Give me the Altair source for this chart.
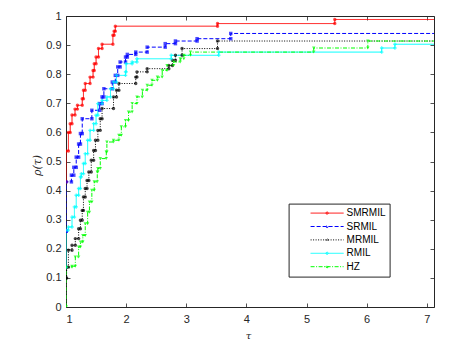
import altair as alt
import pandas as pd

series_names = ["SMRMIL", "SRMIL", "MRMIL", "RMIL", "HZ"]
colors = ["#ff0000", "#0000ff", "#000000", "#00ffff", "#00ff00"]
dashes = [[1, 0], [4, 2], [1, 1.5], [1, 0], [4, 1.5, 1, 1.5]]
shapes = ["circle", "square", "circle", "cross", "triangle-down"]

tau_max = 7.12

smrmil_tau = [1.00, 1.00, 1.04, 1.07, 1.10, 1.15, 1.19, 1.27, 1.29, 1.32, 1.40, 1.45, 1.47, 1.50, 1.54, 1.60, 1.78, 1.80, 1.82, 3.52, 5.47]
smrmil_rho = [0.43, 0.536, 0.60, 0.63, 0.66, 0.68, 0.693, 0.716, 0.745, 0.768, 0.79, 0.813, 0.836, 0.859, 0.888, 0.903, 0.934, 0.948, 0.965, 0.974, 0.988]

srmil_tau = [1.00, 1.00, 1.09, 1.13, 1.17, 1.21, 1.24, 1.27, 1.43, 1.56, 1.60, 1.63, 1.77, 1.82, 1.86, 1.90, 1.99, 2.02, 2.16, 2.35, 2.65, 2.82, 3.18, 3.74]
srmil_rho = [0.26, 0.43, 0.453, 0.48, 0.515, 0.56, 0.596, 0.647, 0.676, 0.699, 0.722, 0.75, 0.773, 0.796, 0.825, 0.842, 0.859, 0.868, 0.876, 0.893, 0.905, 0.914, 0.922, 0.94]

mrmil_tau = [1.00, 1.01, 1.04, 1.10, 1.155, 1.21, 1.24, 1.27, 1.29, 1.32, 1.35, 1.38, 1.42, 1.46, 1.49, 1.53, 1.57, 1.60, 1.79, 1.84, 1.88, 2.16, 2.18, 2.35, 2.71, 2.77, 2.82, 2.93, 3.52]
mrmil_rho = [0.10, 0.137, 0.195, 0.212, 0.235, 0.269, 0.298, 0.332, 0.378, 0.407, 0.435, 0.464, 0.504, 0.538, 0.573, 0.607, 0.647, 0.682, 0.722, 0.745, 0.768, 0.79, 0.808, 0.819, 0.83, 0.848, 0.865, 0.888, 0.914]

rmil_tau = [1.00, 1.00, 1.04, 1.10, 1.14, 1.17, 1.21, 1.24, 1.255, 1.29, 1.32, 1.36, 1.40, 1.46, 1.50, 1.53, 1.60, 1.68, 1.74, 1.79, 1.84, 1.99, 2.00, 2.10, 2.18, 2.75, 3.54, 6.25, 6.47]
rmil_rho = [0.137, 0.264, 0.275, 0.309, 0.344, 0.384, 0.407, 0.447, 0.458, 0.493, 0.527, 0.573, 0.607, 0.63, 0.659, 0.699, 0.71, 0.722, 0.75, 0.773, 0.796, 0.808, 0.836, 0.842, 0.853, 0.865, 0.876, 0.89, 0.903]

hz_tau = [1.00, 1.00, 1.10, 1.155, 1.21, 1.24, 1.28, 1.32, 1.36, 1.39, 1.43, 1.47, 1.52, 1.53, 1.57, 1.67, 1.68, 1.79, 1.88, 1.92, 1.99, 2.04, 2.10, 2.18, 2.27, 2.35, 2.43, 2.52, 2.60, 2.68, 2.79, 2.90, 2.96, 3.07, 5.12, 6.02]
hz_rho = [0.0, 0.137, 0.14, 0.172, 0.206, 0.223, 0.246, 0.286, 0.326, 0.361, 0.401, 0.43, 0.464, 0.476, 0.51, 0.533, 0.567, 0.573, 0.59, 0.619, 0.641, 0.67, 0.699, 0.722, 0.745, 0.762, 0.779, 0.79, 0.813, 0.83, 0.842, 0.853, 0.865, 0.876, 0.89, 0.914]

all_tau = [smrmil_tau, srmil_tau, mrmil_tau, rmil_tau, hz_tau]
all_rho = [smrmil_rho, srmil_rho, mrmil_rho, rmil_rho, hz_rho]

line_rows, point_rows = [], []
for k, name in enumerate(series_names):
    ts, rs = all_tau[k], all_rho[k]
    order = 0
    for i, (t, r) in enumerate(zip(ts, rs)):
        line_rows.append({"series": name, "tau": t, "rho": r, "o": order}); order += 1
        if i > 0:
            point_rows.append({"series": name, "tau": t, "rho": rs[i - 1]})
        point_rows.append({"series": name, "tau": t, "rho": r})
    line_rows.append({"series": name, "tau": tau_max, "rho": rs[-1], "o": order})

lines_df = pd.DataFrame(line_rows)
points_df = pd.DataFrame(point_rows)

ink = "#262626"
x_scale = alt.Scale(domain=[1, tau_max], nice=False, zero=False)
y_scale = alt.Scale(domain=[0, 1], nice=False)
x_ticks = [1, 2, 3, 4, 5, 6, 7]
y_ticks = [0, 0.1, 0.2, 0.3, 0.4, 0.5, 0.6, 0.7, 0.8, 0.9, 1.0]
nb = "\u00a0" * 7

legend = alt.Legend(orient="none", legendX=222.6, legendY=187.6, title=None,
                    symbolType="M-3.3,0H3.3M0.22,0A0.22,0.22,0,1,1,-0.22,0A0.22,0.22,0,1,1,0.22,0",
                    symbolSize=100, symbolStrokeWidth=1,
                    labelFontSize=10, labelFont="Liberation Sans", labelColor="#000000",
                    padding=4, strokeColor=ink, fillColor="white", rowPadding=2.4,
                    symbolOffset=29, labelOffset=14,
                    labelExpr="datum.label + '" + nb + "'")

lines = alt.Chart(lines_df).mark_line(interpolate="step-after", strokeWidth=1, clip=True).encode(
    x=alt.X("tau:Q", scale=x_scale,
            axis=alt.Axis(values=x_ticks, title="τ", domain=False, grid=False, tickSize=4, offset=-4,
                          labelPadding=6, titleX=182, titleY=32, titleBaseline="middle",
                          titleFont="DejaVu Serif", titleFontStyle="italic", titleFontWeight="normal",
                          titleFontSize=10)),
    y=alt.Y("rho:Q", scale=y_scale,
            axis=alt.Axis(values=y_ticks, format="~g", title="ρ(τ)", domain=False, grid=False, tickSize=4,
                          offset=-4, labelPadding=5, titleX=-32.7, titleY=149, titleAngle=270,
                          titleAlign="center", titleBaseline="middle",
                          titleFont="DejaVu Serif", titleFontStyle="italic", titleFontWeight="normal",
                          titleFontSize=11)),
    color=alt.Color("series:N", scale=alt.Scale(domain=series_names, range=colors), legend=legend),
    strokeDash=alt.StrokeDash("series:N", scale=alt.Scale(domain=series_names, range=dashes), legend=legend),
    order="o:Q",
)

point_layers = []
for k, name in enumerate(series_names):
    if k == 0:
        xa = alt.Axis(orient="top", values=x_ticks, labels=False, title=None, domain=False, grid=False,
                      tickSize=4, offset=-4)
        ya = alt.Axis(orient="right", values=y_ticks, labels=False, title=None, domain=False, grid=False,
                      tickSize=4, offset=-4)
    else:
        xa = None
        ya = None
    pl = alt.Chart(points_df).transform_filter(alt.datum.series == name).mark_point(
        filled=True, size=12, strokeWidth=0.6, clip=True, color=colors[k], shape=shapes[k]
    ).encode(
        x=alt.X("tau:Q", scale=x_scale, axis=xa),
        y=alt.Y("rho:Q", scale=y_scale, axis=ya),
    )
    point_layers.append(pl)

chart = alt.layer(lines, *point_layers).resolve_axis(x="independent", y="independent").properties(
    width=368, height=291,
    autosize=alt.AutoSizeParams(type="none"),
    padding={"left": 58, "top": 8, "right": 32, "bottom": 38},
).configure_view(stroke=ink, strokeWidth=1).configure_axis(
    tickColor=ink, tickWidth=0.8, labelColor=ink, labelFont="Liberation Sans", labelFontSize=11,
    titleColor=ink,
)

chart.save("out.html", embed_options={"renderer": "svg", "actions": False})
